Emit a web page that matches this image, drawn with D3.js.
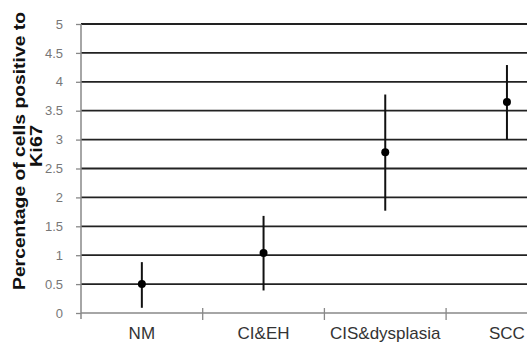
<!DOCTYPE html>
<html>
<head>
<meta charset="utf-8">
<script src="https://cdn.jsdelivr.net/npm/d3@7"></script>
<style>
  body { margin: 0; background: #fff; }
  svg { display: block; font-family: "Liberation Sans", Arial, sans-serif; }
</style>
</head>
<body>
<svg id="chart" width="527" height="345"></svg>
<script>
const svg = d3.select("#chart");

//------------------------------------------------------------------------------
// Data
//------------------------------------------------------------------------------
const categories = ["NM", "CI&EH", "CIS&dysplasia", "SCC"];
const means = [0.5, 1.04, 2.78, 3.65];
const lows = [0.09, 0.39, 1.77, 3.0];
const highs = [0.88, 1.68, 3.78, 4.29];
const yTicks = [0, 0.5, 1, 1.5, 2, 2.5, 3, 3.5, 4, 4.5, 5];

//------------------------------------------------------------------------------
// Scales
//------------------------------------------------------------------------------
const plot = {left: 81, top: 24, bottom: 313, band: 121.7};

const x = d3.scaleBand()
    .domain(categories)
    .range([plot.left, plot.left + plot.band * categories.length])
    .padding(0);

const y = d3.scaleLinear()
    .domain([0, 5])
    .range([plot.bottom, plot.top]);

// grid lines (the 0 line is the x axis)
svg.append("g")
    .selectAll("line")
    .data(yTicks.filter(d => d > 0))
    .enter().append("line")
    .attr("x1", plot.left)
    .attr("x2", 527)
    .attr("y1", d => y(d))
    .attr("y2", d => y(d))
    .attr("stroke", "#222")
    .attr("stroke-width", 1.8);

// y axis
const yAxis = d3.axisLeft(y)
    .tickValues(yTicks)
    .tickSize(5)
    .tickPadding(13)
    .tickFormat(d3.format(""));

const gy = svg.append("g")
    .attr("transform", "translate(" + plot.left + ",0)")
    .call(yAxis);
gy.select(".domain").remove();
gy.append("line")
    .attr("x1", 0).attr("x2", 0)
    .attr("y1", plot.top).attr("y2", plot.bottom + 6)
    .attr("stroke", "#888").attr("stroke-width", 1.5);
gy.selectAll(".tick line").attr("stroke", "#888").attr("stroke-width", 1.3);
gy.selectAll(".tick text")
    .attr("fill", "#777")
    .style("font-size", "13px");

// x axis
const gx = svg.append("g");
gx.append("line")
    .attr("x1", plot.left).attr("x2", 527)
    .attr("y1", plot.bottom).attr("y2", plot.bottom)
    .attr("stroke", "#888").attr("stroke-width", 1.5);
gx.selectAll(".sep")
    .data(categories.slice(1))
    .enter().append("line")
    .attr("class", "sep")
    .attr("x1", d => x(d)).attr("x2", d => x(d))
    .attr("y1", plot.bottom - 5).attr("y2", plot.bottom + 7)
    .attr("stroke", "#888").attr("stroke-width", 1.3);
gx.selectAll(".lbl")
    .data(categories)
    .enter().append("text")
    .attr("class", "lbl")
    .attr("x", d => x(d) + x.bandwidth() / 2)
    .attr("y", 339)
    .attr("text-anchor", "middle")
    .attr("fill", "#333")
    .style("font-size", "17px")
    .text(d => d);

// error bars and means
const pts = categories.map((c, i) => ({c: c, m: means[i], lo: lows[i], hi: highs[i]}));

svg.append("g")
    .selectAll("line")
    .data(pts)
    .enter().append("line")
    .attr("x1", d => x(d.c) + x.bandwidth() / 2)
    .attr("x2", d => x(d.c) + x.bandwidth() / 2)
    .attr("y1", d => y(d.lo))
    .attr("y2", d => y(d.hi))
    .attr("stroke", "#111")
    .attr("stroke-width", 2);

svg.append("g")
    .selectAll("circle")
    .data(pts)
    .enter().append("circle")
    .attr("cx", d => x(d.c) + x.bandwidth() / 2)
    .attr("cy", d => y(d.m))
    .attr("r", 4)
    .attr("fill", "#000");

// y title
const title = svg.append("g").attr("font-weight", "bold").attr("fill", "#111");
title.append("text")
    .attr("transform", "translate(24.5,151) rotate(-90)")
    .attr("text-anchor", "middle")
    .attr("textLength", 278)
    .attr("lengthAdjust", "spacingAndGlyphs")
    .style("font-size", "17px")
    .text("Percentage of cells positive to");
title.append("text")
    .attr("transform", "translate(41.7,146) rotate(-90)")
    .attr("text-anchor", "middle")
    .attr("textLength", 42)
    .attr("lengthAdjust", "spacingAndGlyphs")
    .style("font-size", "17px")
    .text("Ki67");
</script>
</body>
</html>
